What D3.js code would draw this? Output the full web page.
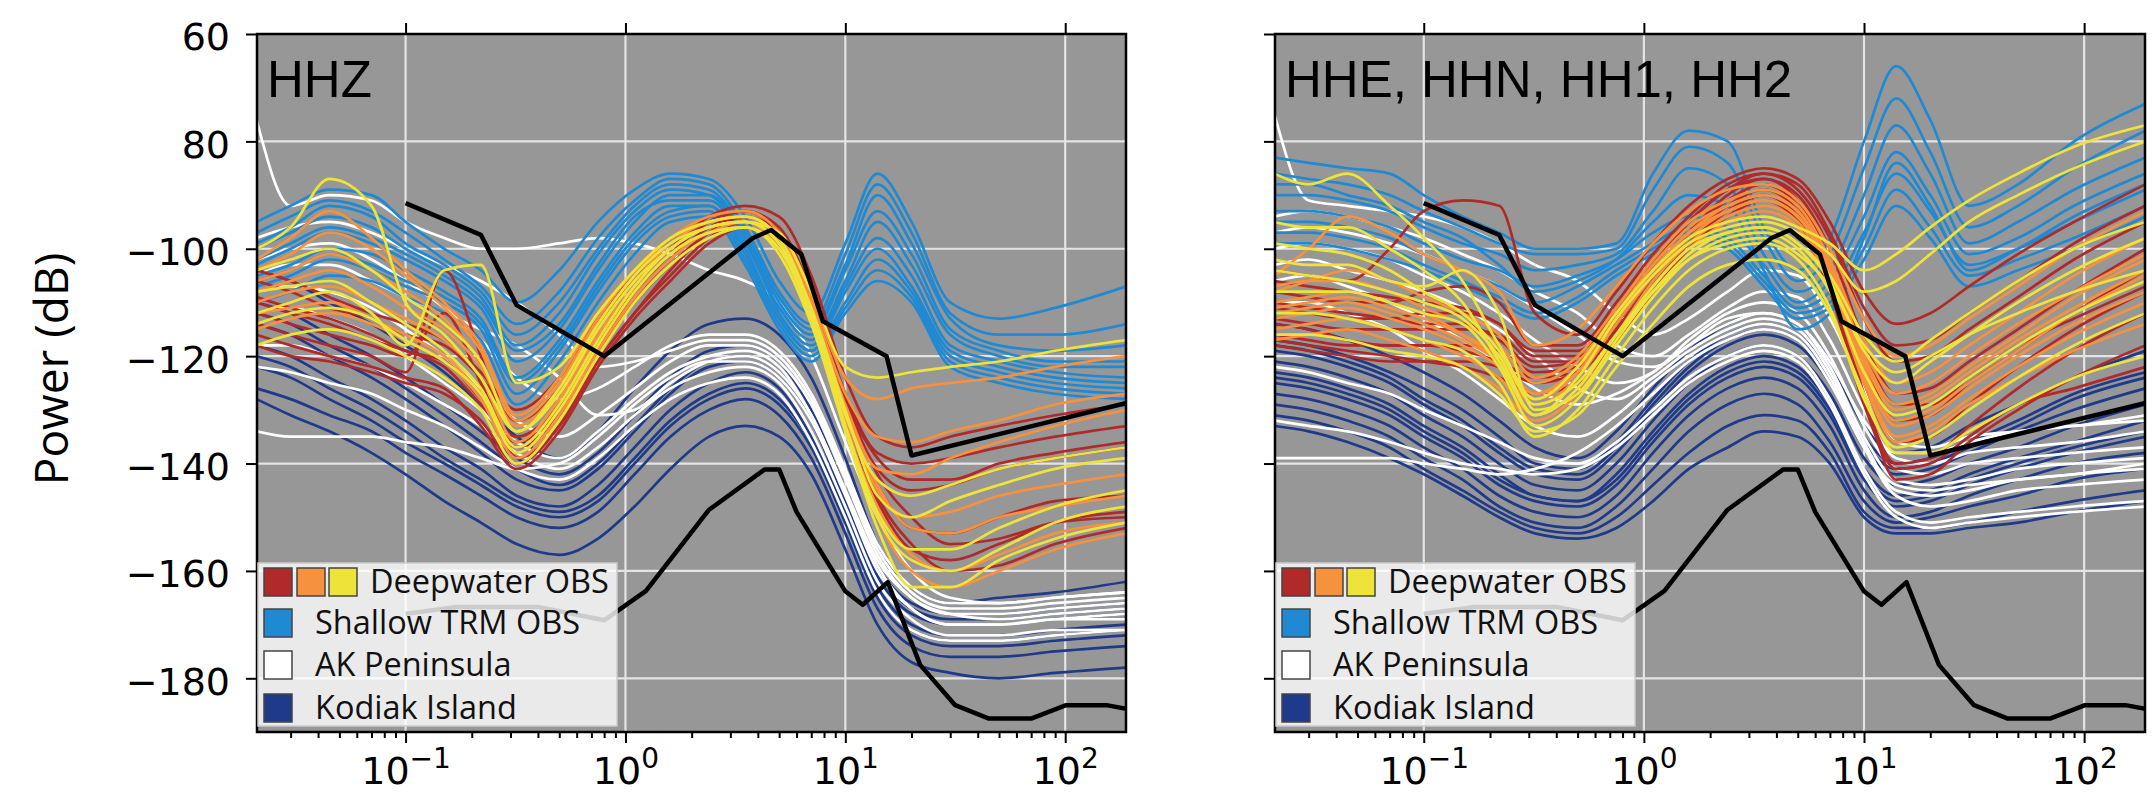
<!DOCTYPE html>
<html>
  <head>
    <meta charset="utf-8">
    <style>
    body { margin: 0; background: #fff; }
    .grid line { stroke: #e4e4e4; stroke-width: 2.2; }
    .curve { fill: none; stroke-width: 2.7; stroke-linejoin: round; }
    .model { fill: none; stroke: #000; stroke-width: 4.5; stroke-linejoin: round; }
    .axis line { stroke: #000; stroke-width: 2; }
    .axis text { font-family: "DejaVu Sans"; font-size: 38px; fill: #000; }
    .legend text { font-family: "Open Sans"; font-size: 32.5px; fill: #111; }
    </style>
  </head>
  <body>
    <script src="https://cdn.jsdelivr.net/npm/d3@7"></script>
    <script>

    // periods (s) at which every curve is read
    var periods = [0.021, 0.03, 0.045, 0.07, 0.1, 0.15, 0.22, 0.32, 0.5, 0.75, 1.1, 1.6, 2.4, 3.5, 5, 7, 10, 14, 20, 30, 50, 90, 190];

    // ---- HHZ panel (dB) ----
    var hhzBlue = [
      [-95, -92, -89, -90, -95, -100, -104, -110, -104, -95, -89, -86, -87, -94, -106, -112, -99, -86, -95, -110, -113, -111, -107],
      [-97, -94, -91, -93, -97, -102, -107, -114, -108, -98, -91, -87, -88, -96, -108, -114, -101, -88, -97, -112, -116, -116, -114],
      [-99, -96, -92, -94, -99, -103, -108, -116, -110, -100, -92, -88, -89, -97, -109, -115, -103, -90, -99, -113, -118, -119, -118],
      [-100, -97, -94, -96, -100, -104, -109, -118, -112, -101, -93, -89, -90, -98, -110, -116, -104, -93, -101, -115, -119, -121, -121],
      [-102, -99, -96, -98, -101, -105, -110, -119, -114, -103, -94, -91, -91, -99, -111, -117, -106, -95, -103, -116, -120, -122, -122],
      [-103, -100, -97, -99, -102, -106, -111, -121, -115, -104, -95, -90, -90, -98, -112, -118, -107, -98, -105, -118, -121, -123, -124],
      [-105, -103, -100, -101, -104, -108, -113, -124, -117, -106, -97, -92, -92, -100, -113, -119, -108, -100, -107, -119, -122, -124, -125],
      [-106, -104, -101, -103, -106, -109, -114, -125, -118, -107, -98, -93, -92, -101, -113, -119, -110, -102, -108, -120, -123, -125, -126],
      [-107, -105, -102, -104, -107, -110, -115, -127, -119, -108, -99, -94, -93, -102, -114, -120, -111, -104, -109, -121, -124, -126, -127],
      [-110, -108, -105, -106, -109, -112, -117, -129, -121, -110, -101, -95, -94, -103, -115, -121, -112, -106, -110, -122, -125, -127, -128]
    ];
    var hhzRed = [
      [-106, -108, -111, -113, -116, -118, -124, -132, -126, -114, -106, -100, -94, -92, -94, -105, -124, -135, -137, -135, -133, -131, -129],
      [-109, -111, -113, -116, -119, -121, -128, -135, -129, -117, -108, -101, -95, -93, -96, -108, -127, -138, -140, -139, -137, -135, -133],
      [-112, -114, -116, -118, -120, -112, -125, -137, -131, -119, -110, -103, -97, -94, -98, -110, -129, -141, -145, -144, -141, -139, -137],
      [-114, -116, -118, -120, -123, -104, -120, -139, -133, -121, -112, -105, -98, -95, -99, -112, -131, -144, -152, -153, -150, -147, -146],
      [-116, -118, -120, -122, -124, -126, -133, -141, -134, -122, -113, -106, -99, -96, -100, -113, -133, -147, -156, -158, -155, -151, -149],
      [-104, -106, -109, -112, -114, -117, -123, -130, -124, -113, -105, -99, -95, -93, -97, -109, -128, -142, -150, -155, -154, -151, -150],
      [-118, -120, -121, -123, -125, -127, -132, -140, -133, -121, -112, -104, -97, -95, -99, -111, -130, -146, -155, -160, -159, -155, -152],
      [-110, -112, -114, -117, -119, -122, -129, -136, -130, -118, -109, -102, -96, -94, -97, -109, -128, -139, -143, -143, -140, -138, -136]
    ];
    var hhzOrange = [
      [-102, -98, -93, -98, -104, -110, -118, -131, -124, -112, -104, -98, -94, -93, -97, -109, -124, -128, -126, -125, -124, -122, -120],
      [-106, -104, -101, -104, -108, -113, -121, -134, -127, -115, -106, -99, -95, -94, -98, -111, -129, -141, -142, -139, -136, -133, -130],
      [-110, -108, -107, -110, -113, -117, -124, -136, -128, -116, -107, -100, -96, -95, -99, -112, -131, -145, -150, -149, -146, -144, -142],
      [-112, -111, -110, -113, -116, -120, -127, -138, -130, -118, -108, -101, -97, -95, -100, -113, -133, -148, -157, -160, -157, -153, -151],
      [-108, -106, -104, -107, -111, -115, -122, -133, -126, -114, -105, -98, -95, -94, -98, -110, -130, -144, -152, -153, -150, -148, -146],
      [-115, -113, -112, -114, -117, -121, -128, -139, -131, -119, -109, -102, -97, -96, -100, -112, -132, -150, -160, -163, -160, -156, -153],
      [-104, -101, -97, -100, -105, -111, -119, -132, -125, -113, -104, -98, -95, -94, -98, -110, -127, -135, -136, -134, -132, -129, -127]
    ];
    var hhzYellow = [
      [-100, -96, -87, -92, -110, -116, -124, -134, -126, -114, -105, -99, -96, -95, -97, -108, -122, -124, -123, -122, -121, -119, -117],
      [-112, -110, -108, -112, -118, -104, -103, -125, -122, -112, -104, -98, -95, -94, -98, -111, -130, -146, -150, -147, -144, -141, -139],
      [-108, -107, -106, -110, -114, -119, -126, -137, -129, -117, -107, -100, -96, -95, -99, -113, -133, -150, -158, -160, -156, -151, -148],
      [-118, -116, -115, -117, -120, -124, -130, -140, -132, -120, -110, -103, -98, -96, -101, -114, -134, -152, -163, -163, -158, -154, -151],
      [-104, -102, -100, -104, -109, -114, -121, -134, -127, -115, -106, -100, -96, -95, -99, -112, -131, -143, -146, -144, -141, -139, -137],
      [-114, -112, -111, -113, -117, -121, -127, -138, -130, -118, -108, -101, -97, -96, -100, -113, -133, -149, -156, -156, -152, -148, -145]
    ];
    var hhzWhite = [
      [-76, -92, -90, -91, -95, -98, -100, -100, -99, -98, -99, -101, -104, -106, -110, -120, -136, -150, -160, -165, -166, -165, -164],
      [-102, -100, -99, -102, -106, -111, -117, -124, -128, -126, -122, -118, -116, -116, -119, -127, -141, -155, -163, -166, -166, -165, -164],
      [-108, -107, -108, -111, -115, -120, -126, -132, -135, -131, -126, -121, -118, -118, -121, -129, -143, -157, -165, -168, -168, -167, -166],
      [-134, -135, -135, -135, -136, -137, -139, -141, -140, -135, -129, -124, -121, -121, -124, -132, -146, -160, -167, -170, -170, -169, -168],
      [-112, -111, -113, -116, -120, -125, -130, -136, -139, -134, -128, -123, -120, -119, -122, -131, -145, -159, -167, -170, -170, -169, -169],
      [-105, -103, -103, -106, -109, -112, -115, -118, -124, -131, -130, -125, -121, -120, -123, -131, -145, -158, -165, -168, -169, -168, -167],
      [-118, -118, -120, -122, -125, -129, -133, -138, -141, -137, -131, -126, -123, -122, -125, -134, -148, -162, -169, -172, -172, -171, -171],
      [-98, -96, -95, -97, -100, -103, -106, -110, -116, -122, -121, -119, -117, -117, -120, -128, -142, -156, -164, -167, -167, -166, -165],
      [-122, -123, -125, -127, -130, -133, -137, -141, -143, -139, -133, -128, -125, -124, -127, -136, -150, -164, -171, -173, -173, -172, -171]
    ];
    var hhzNavy = [
      [-104, -106, -110, -114, -118, -123, -129, -135, -139, -134, -126, -119, -114, -113, -116, -124, -139, -155, -163, -166, -165, -164, -162],
      [-110, -112, -116, -120, -124, -129, -134, -139, -142, -138, -131, -124, -119, -118, -121, -130, -145, -159, -166, -168, -168, -167, -166],
      [-112, -114, -118, -122, -126, -131, -136, -141, -144, -140, -133, -126, -121, -120, -123, -131, -146, -160, -167, -169, -169, -168, -167],
      [-114, -116, -120, -124, -128, -133, -138, -143, -145, -141, -134, -127, -122, -121, -124, -132, -147, -161, -168, -170, -170, -169, -168],
      [-118, -120, -124, -128, -132, -137, -141, -146, -148, -144, -137, -130, -125, -123, -126, -135, -149, -163, -170, -172, -172, -171, -170],
      [-120, -122, -126, -130, -134, -139, -143, -147, -149, -146, -139, -132, -127, -125, -128, -136, -150, -164, -171, -173, -173, -172, -171],
      [-122, -124, -128, -132, -136, -140, -144, -148, -150, -147, -140, -133, -128, -126, -129, -137, -151, -165, -172, -174, -174, -173, -172],
      [-126, -128, -131, -134, -138, -142, -146, -150, -152, -149, -142, -135, -130, -128, -131, -139, -153, -167, -174, -176, -176, -175, -174],
      [-128, -131, -134, -138, -142, -147, -151, -155, -157, -154, -148, -141, -135, -133, -135, -142, -156, -170, -177, -179, -180, -179, -178]
    ];

    // ---- HHE, HHN, HH1, HH2 panel (dB) ----
    var horBlue = [
      [-83, -84, -85, -86, -90, -94, -97, -100, -100, -99, -86, -78, -80, -96, -104, -98, -80, -66, -76, -92, -88, -80, -73],
      [-86, -87, -88, -90, -93, -96, -99, -101, -101, -100, -89, -81, -84, -98, -106, -101, -85, -72, -82, -96, -92, -85, -78],
      [-90, -90, -91, -93, -96, -99, -101, -104, -103, -101, -93, -85, -88, -101, -108, -104, -90, -77, -86, -99, -95, -89, -83],
      [-93, -93, -94, -96, -99, -102, -104, -107, -105, -102, -97, -94, -96, -103, -110, -106, -94, -82, -90, -101, -98, -92, -86],
      [-95, -95, -96, -98, -101, -104, -107, -110, -107, -103, -99, -96, -98, -105, -111, -108, -97, -86, -93, -103, -100, -95, -89],
      [-97, -97, -98, -100, -103, -106, -109, -112, -109, -104, -100, -97, -99, -106, -112, -110, -100, -89, -96, -105, -102, -98, -92],
      [-99, -99, -100, -102, -104, -107, -110, -113, -110, -105, -101, -98, -100, -107, -113, -111, -102, -92, -98, -107, -104, -100, -94],
      [-88, -88, -90, -92, -95, -98, -103, -108, -106, -102, -95, -90, -92, -104, -115, -112, -98, -84, -92, -104, -100, -94, -88]
    ];
    var horRed = [
      [-104, -105, -106, -100, -93, -91, -92, -112, -116, -108, -99, -92, -87, -85, -87, -95, -108, -114, -112, -107, -101, -95, -88],
      [-108, -109, -110, -110, -108, -107, -110, -118, -118, -110, -101, -94, -88, -86, -89, -98, -113, -121, -120, -115, -109, -102, -95],
      [-111, -112, -113, -113, -112, -112, -114, -120, -120, -112, -103, -95, -89, -87, -90, -100, -117, -127, -126, -121, -115, -108, -100],
      [-113, -114, -115, -115, -115, -115, -116, -121, -121, -113, -104, -97, -91, -88, -92, -103, -121, -132, -131, -125, -119, -112, -104],
      [-116, -117, -118, -118, -118, -118, -119, -123, -122, -114, -105, -98, -92, -89, -93, -105, -125, -136, -135, -129, -122, -115, -108],
      [-118, -119, -120, -121, -121, -121, -122, -125, -123, -115, -106, -99, -93, -90, -94, -107, -128, -140, -139, -133, -126, -119, -112],
      [-106, -107, -108, -109, -110, -111, -114, -119, -119, -111, -102, -95, -89, -86, -88, -97, -111, -118, -117, -112, -106, -99, -92],
      [-110, -111, -112, -113, -114, -114, -117, -122, -121, -113, -104, -97, -90, -87, -91, -102, -119, -129, -129, -124, -118, -113, -107],
      [-114, -115, -117, -118, -118, -119, -121, -124, -123, -115, -106, -99, -93, -90, -94, -106, -127, -143, -142, -136, -130, -124, -118],
      [-117, -118, -119, -120, -121, -122, -124, -127, -125, -117, -108, -100, -94, -91, -95, -108, -129, -141, -140, -135, -129, -126, -122]
    ];
    var horOrange = [
      [-105, -100, -94, -97, -101, -104, -108, -118, -115, -107, -99, -93, -89, -88, -91, -100, -113, -120, -118, -113, -107, -100, -93],
      [-108, -106, -104, -106, -109, -112, -116, -124, -120, -111, -102, -95, -91, -89, -92, -102, -117, -125, -123, -118, -112, -105, -98],
      [-111, -110, -109, -111, -113, -116, -120, -127, -123, -113, -104, -97, -92, -90, -93, -103, -120, -129, -127, -122, -116, -109, -102],
      [-113, -112, -111, -113, -115, -118, -122, -129, -124, -114, -105, -98, -93, -91, -94, -104, -122, -132, -130, -125, -119, -112, -105],
      [-115, -114, -113, -115, -117, -120, -124, -131, -126, -116, -106, -99, -94, -92, -95, -106, -124, -135, -133, -128, -122, -116, -110],
      [-107, -106, -106, -108, -111, -114, -118, -125, -121, -112, -103, -96, -92, -90, -93, -103, -119, -127, -125, -120, -114, -108, -101],
      [-110, -109, -108, -110, -112, -116, -121, -128, -123, -113, -104, -97, -93, -91, -94, -105, -123, -133, -131, -126, -120, -114, -108],
      [-117, -116, -115, -117, -119, -122, -126, -132, -127, -117, -107, -100, -95, -93, -96, -107, -125, -136, -134, -129, -124, -119, -114],
      [-112, -111, -110, -112, -114, -117, -121, -127, -122, -113, -104, -97, -93, -91, -94, -104, -121, -130, -128, -123, -117, -111, -104]
    ];
    var horYellow = [
      [-86, -88, -86, -92, -98, -106, -118, -128, -122, -112, -104, -98, -95, -94, -96, -99, -104, -101, -96, -91, -86, -81, -77],
      [-95, -96, -96, -100, -104, -110, -121, -131, -124, -113, -105, -99, -96, -95, -97, -101, -108, -106, -101, -95, -90, -85, -80],
      [-102, -103, -103, -106, -107, -104, -112, -130, -127, -117, -108, -101, -97, -96, -99, -105, -116, -121, -117, -112, -106, -100, -95],
      [-108, -108, -108, -110, -112, -114, -122, -133, -128, -118, -109, -102, -98, -97, -100, -108, -123, -131, -129, -124, -118, -112, -106],
      [-112, -112, -113, -115, -117, -119, -125, -135, -130, -120, -111, -104, -100, -99, -102, -111, -128, -137, -135, -130, -124, -118, -112],
      [-104, -105, -106, -108, -110, -113, -120, -131, -126, -116, -107, -100, -97, -96, -99, -106, -119, -125, -121, -116, -110, -104, -98],
      [-116, -116, -117, -119, -120, -122, -127, -134, -131, -122, -114, -107, -103, -102, -104, -112, -127, -138, -138, -134, -129, -124, -120],
      [-99, -100, -101, -104, -108, -112, -119, -129, -125, -116, -108, -102, -99, -98, -101, -107, -118, -123, -120, -116, -112, -108, -104]
    ];
    var horWhite = [
      [-75, -91, -92, -93, -94, -96, -99, -103, -106, -112, -116, -113, -108, -104, -105, -113, -126, -136, -137, -135, -134, -133, -131],
      [-94, -93, -94, -96, -98, -101, -104, -108, -112, -118, -120, -116, -111, -108, -109, -117, -130, -139, -140, -138, -137, -136, -134],
      [-100, -99, -100, -102, -105, -108, -112, -117, -122, -125, -123, -117, -112, -110, -112, -120, -133, -141, -142, -140, -139, -138, -137],
      [-106, -105, -107, -110, -113, -117, -121, -126, -129, -127, -123, -118, -113, -112, -114, -122, -135, -143, -144, -143, -141, -140, -139],
      [-139, -139, -139, -139, -140, -141, -142, -141, -138, -133, -127, -121, -117, -115, -117, -125, -137, -144, -145, -144, -143, -142, -141],
      [-110, -110, -112, -115, -119, -123, -128, -133, -135, -131, -125, -120, -116, -114, -116, -124, -137, -146, -148, -147, -145, -144, -143],
      [-122, -123, -125, -127, -130, -133, -136, -139, -140, -136, -130, -124, -120, -118, -120, -128, -141, -149, -151, -150, -149, -148, -147],
      [-97, -96, -97, -99, -101, -104, -107, -111, -116, -121, -122, -118, -114, -112, -114, -121, -132, -138, -138, -136, -134, -133, -132],
      [-132, -133, -134, -136, -138, -140, -141, -142, -141, -137, -131, -125, -121, -119, -121, -129, -142, -150, -152, -151, -150, -149, -148],
      [-103, -102, -104, -106, -108, -111, -115, -120, -126, -128, -124, -119, -115, -113, -115, -123, -136, -145, -146, -145, -143, -142, -140]
    ];
    var horNavy = [
      [-114, -115, -117, -120, -123, -127, -132, -137, -139, -134, -126, -119, -114, -112, -114, -121, -133, -138, -137, -133, -129, -124, -119],
      [-117, -118, -120, -123, -126, -130, -135, -140, -141, -136, -128, -121, -116, -114, -116, -123, -135, -140, -139, -136, -132, -127, -123],
      [-119, -120, -122, -125, -129, -133, -138, -142, -143, -138, -130, -123, -118, -116, -118, -125, -137, -142, -141, -138, -134, -130, -126],
      [-121, -122, -124, -127, -131, -135, -140, -144, -145, -140, -132, -125, -120, -118, -120, -127, -139, -144, -143, -140, -137, -133, -129],
      [-123, -124, -126, -129, -133, -137, -142, -146, -147, -142, -134, -127, -122, -120, -122, -129, -141, -146, -145, -142, -139, -136, -132],
      [-125, -126, -128, -131, -135, -139, -144, -147, -148, -144, -136, -129, -124, -122, -124, -131, -143, -148, -147, -144, -141, -138, -135],
      [-127, -128, -130, -133, -137, -141, -146, -149, -150, -146, -138, -131, -126, -124, -126, -133, -145, -150, -149, -146, -143, -140, -138],
      [-129, -130, -132, -135, -139, -143, -148, -151, -152, -148, -141, -134, -129, -127, -129, -136, -147, -151, -150, -148, -146, -143, -141],
      [-131, -132, -134, -137, -141, -145, -149, -152, -153, -150, -144, -138, -133, -131, -132, -138, -149, -152, -152, -151, -149, -147, -145],
      [-133, -134, -136, -139, -142, -146, -150, -153, -154, -152, -147, -141, -137, -134, -135, -140, -150, -153, -153, -152, -151, -149, -147],
      [-118, -119, -121, -124, -128, -132, -137, -141, -142, -137, -129, -122, -117, -115, -117, -124, -136, -141, -140, -137, -133, -128, -124],
      [-124, -125, -127, -130, -134, -138, -143, -146, -147, -143, -135, -128, -123, -121, -123, -130, -142, -147, -146, -143, -140, -137, -134]
    ];

    // Peterson high and low noise models
    var nhnmPeriod = [0.1, 0.22, 0.32, 0.8, 3.8, 4.6, 6.3, 7.9, 15.4, 20, 354.8];
    var nhnmPower = [-91.5, -97.4, -110.5, -120.0, -98.0, -96.5, -101.0, -113.5, -120.0, -138.5, -126.0];
    var nlnmPeriod = [0.1, 0.17, 0.4, 0.8, 1.24, 2.4, 4.3, 5, 6, 10, 12, 15.6, 21.9, 31.6, 45, 70, 101, 154, 328];
    var nlnmPower = [-168.0, -166.7, -166.7, -169.2, -163.7, -148.6, -141.1, -141.1, -149.0, -163.8, -166.3, -162.1, -177.5, -185.0, -187.5, -187.5, -185.0, -185.0, -187.5];

    var yTicks = [-60, -80, -100, -120, -140, -160, -180];
    var yTickLabels = ["60", "80", "\u2212100", "\u2212120", "\u2212140", "\u2212160", "\u2212180"];
    var xDecades = [0.1, 1, 10, 100];
    var xDecadeExp = ["\u22121", "0", "1", "2"];
    var legendLabels = ["Deepwater OBS", "Shallow TRM OBS", "AK Peninsula", "Kodiak Island"];

    var colBlue = "#1f8ad3", colRed = "#b02a2a", colOrange = "#f6913d", colYellow = "#ede33a",
        colWhite = "#ffffff", colNavy = "#1f3a8a";

    var width = 2152, height = 797,
        plotTop = 34, plotBottom = 732;

    var panels = [
      {x0: 257, x1: 1126, title: "HHZ", labels: true,
       groups: [[hhzNavy, colNavy], [hhzWhite, colWhite], [hhzBlue, colBlue], [hhzRed, colRed], [hhzOrange, colOrange], [hhzYellow, colYellow]]},
      {x0: 1275, x1: 2145, title: "HHE, HHN, HH1, HH2", labels: false,
       groups: [[horNavy, colNavy], [horWhite, colWhite], [horBlue, colBlue], [horRed, colRed], [horOrange, colOrange], [horYellow, colYellow]]}
    ];

    var minorTicks = [];
    [0.01, 0.1, 1, 10, 100].forEach(function(dec) {
      for (var k = 2; k <= 9; k++) {
        var v = dec * k;
        if (v > 0.0211 && v < 189) minorTicks.push(v);
      }
    });

    var svg = d3.select("body").append("svg")
        .attr("width", width)
        .attr("height", height);

    svg.append("rect").attr("width", width).attr("height", height).attr("fill", "#fff");

    // y axis title
    svg.append("text")
        .attr("transform", "translate(68,369) rotate(-90)")
        .attr("text-anchor", "middle")
        .style("font-family", "Open Sans")
        .style("font-size", "46px")
        .text("Power (dB)");

    panels.forEach(function(p, pi) {
      var x = d3.scaleLog().domain([0.0211, 189]).range([p.x0, p.x1]);
      var y = d3.scaleLinear().domain([-190, -60]).range([plotBottom, plotTop]);

      var g = svg.append("g");

      g.append("clipPath").attr("id", "clip" + pi)
        .append("rect")
          .attr("x", p.x0).attr("y", plotTop)
          .attr("width", p.x1 - p.x0).attr("height", plotBottom - plotTop);

      g.append("rect")
          .attr("x", p.x0).attr("y", plotTop)
          .attr("width", p.x1 - p.x0).attr("height", plotBottom - plotTop)
          .attr("fill", "#979797");

      var grid = g.append("g").attr("class", "grid");
      grid.selectAll(".vx").data(xDecades).enter().append("line")
          .attr("x1", function(d) { return x(d); }).attr("x2", function(d) { return x(d); })
          .attr("y1", plotTop).attr("y2", plotBottom);
      grid.selectAll(".hy").data(yTicks.slice(1)).enter().append("line")
          .attr("x1", p.x0).attr("x2", p.x1)
          .attr("y1", function(d) { return y(d); }).attr("y2", function(d) { return y(d); });

      var line = d3.line()
          .x(function(d, i) { return x(periods[i]); })
          .y(function(d) { return y(d); })
          .curve(d3.curveMonotoneX);

      var plot = g.append("g").attr("clip-path", "url(#clip" + pi + ")");

      p.groups.forEach(function(grp) {
        plot.append("g").selectAll("path")
          .data(grp[0])
          .enter().append("path")
            .attr("class", "curve")
            .attr("stroke", grp[1])
            .attr("d", line);
      });

      var modelLine = d3.line()
          .x(function(d) { return x(d[0]); })
          .y(function(d) { return y(d[1]); });

      plot.append("path").attr("class", "model")
          .attr("d", modelLine(d3.zip(nhnmPeriod, nhnmPower)));
      plot.append("path").attr("class", "model")
          .attr("d", modelLine(d3.zip(nlnmPeriod, nlnmPower)));

      // axes
      var yAxis = g.append("g").attr("class", "axis")
          .attr("transform", "translate(" + p.x0 + ",0)")
          .call(d3.axisLeft(y).tickValues(yTicks).tickSize(11).tickPadding(16)
            .tickFormat(function(d, i) { return p.labels ? yTickLabels[i] : ""; }));
      yAxis.select(".domain").remove();
      yAxis.selectAll("text").attr("dy", "0.42em");

      var xMinor = g.append("g").attr("class", "axis")
          .attr("transform", "translate(0," + plotBottom + ")")
          .call(d3.axisBottom(x).tickValues(minorTicks).tickSize(6).tickFormat(""));
      xMinor.select(".domain").remove();

      var xAxis = g.append("g").attr("class", "axis")
          .attr("transform", "translate(0," + plotBottom + ")")
          .call(d3.axisBottom(x).tickValues(xDecades).tickSize(11).tickFormat(function() { return "10"; }));
      xAxis.select(".domain").remove();
      xAxis.selectAll("text")
          .attr("y", 52).attr("dy", null)
          .each(function(d, i) {
            d3.select(this).append("tspan")
                .attr("dy", -16)
                .style("font-size", "28px")
                .text(xDecadeExp[i]);
          });

      var xTop = g.append("g").attr("class", "axis")
          .attr("transform", "translate(0," + plotTop + ")")
          .call(d3.axisTop(x).tickValues(xDecades).tickSize(11).tickFormat(""));
      xTop.select(".domain").remove();

      g.append("rect")
          .attr("x", p.x0).attr("y", plotTop)
          .attr("width", p.x1 - p.x0).attr("height", plotBottom - plotTop)
          .attr("fill", "none").attr("stroke", "#000").attr("stroke-width", 2.5);

      // panel title
      g.append("text")
          .attr("x", p.x0 + 10).attr("y", 97)
          .style("font-family", "Liberation Sans")
          .style("font-size", "51px")
          .text(p.title);

      // legend
      var lg = g.append("g").attr("class", "legend");
      lg.append("rect")
          .attr("x", p.x0 + 1).attr("y", 563)
          .attr("width", 359).attr("height", 163)
          .attr("fill", "#fff").attr("fill-opacity", 0.8)
          .attr("stroke", "#cccccc").attr("stroke-width", 1.5);

      var rowY = [568, 609, 651, 694];
      var swatches = [
        [colRed, 0, 0], [colOrange, 33, 0], [colYellow, 65, 0],
        [colBlue, 0, 1], [colWhite, 0, 2], [colNavy, 0, 3]
      ];
      lg.selectAll(".sw").data(swatches).enter().append("rect")
          .attr("x", function(d) { return p.x0 + 7 + d[1]; })
          .attr("y", function(d) { return rowY[d[2]]; })
          .attr("width", 28).attr("height", 28)
          .attr("fill", function(d) { return d[0]; })
          .attr("stroke", "#444").attr("stroke-width", 1.5);

      lg.selectAll("text").data(legendLabels).enter().append("text")
          .attr("x", function(d, i) { return p.x0 + (i === 0 ? 113 : 58); })
          .attr("y", function(d, i) { return rowY[i] + 25; })
          .text(function(d) { return d; });
    });

    </script>
  </body>
</html>
